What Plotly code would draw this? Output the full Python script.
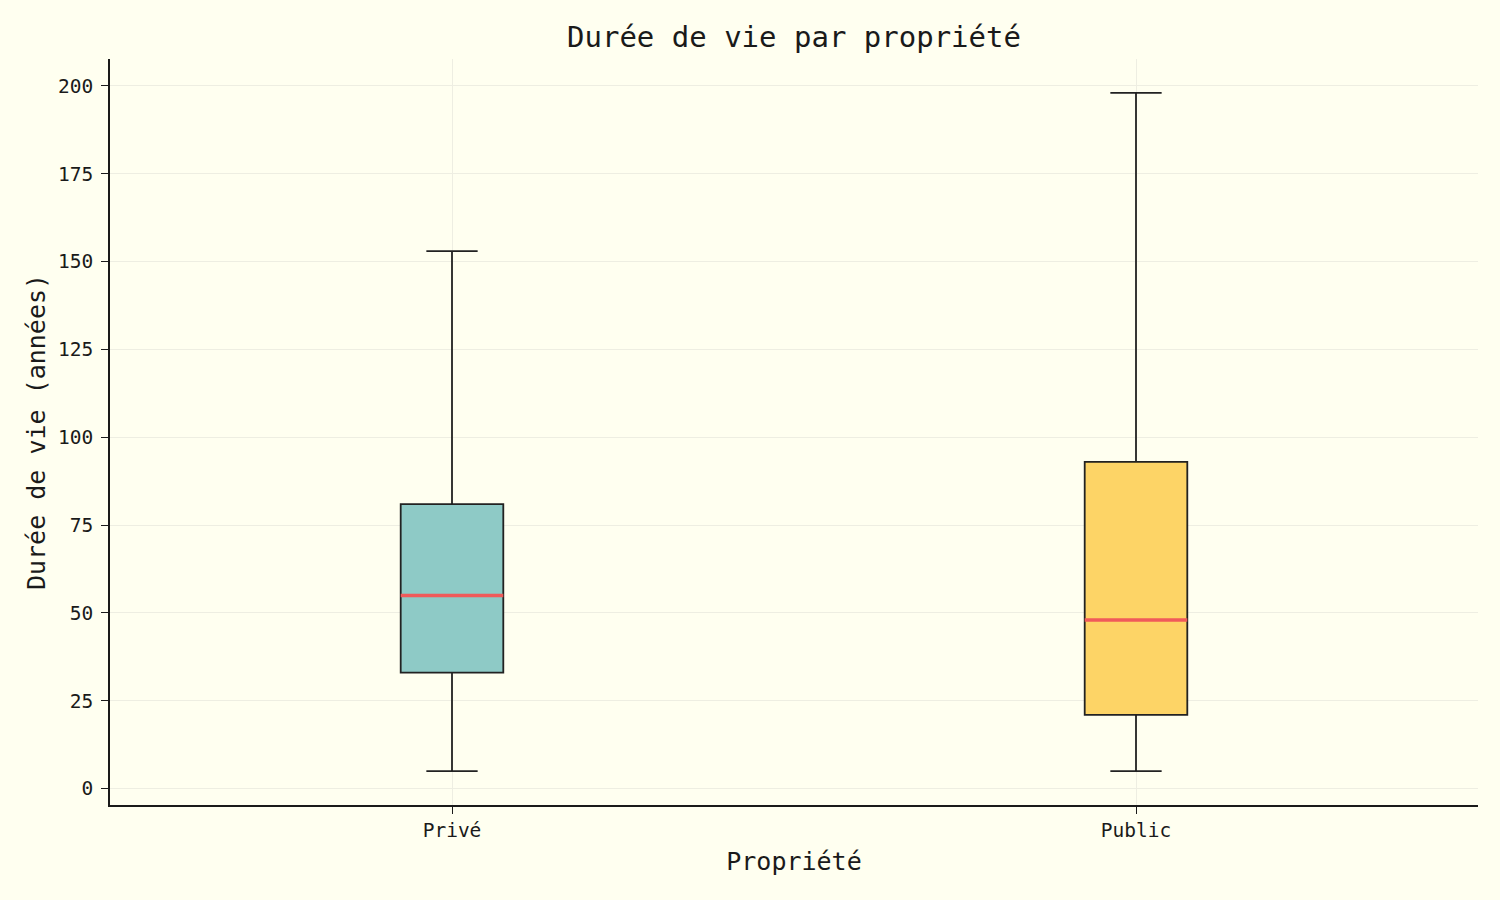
import plotly.graph_objects as go

# Box statistics per ownership category (years)
categories = ["Privé", "Public"]
lower_whisker = [5, 5]
q1 = [33, 21]
median = [55, 48]
q3 = [81, 93]
upper_whisker = [153, 198]
fill_colors = ["#8ECAC6", "#FDD466"]

positions = list(range(len(categories)))
box_width = 0.15

BG = "#FFFFF0"
FONT = "DejaVu Sans Mono"
INK = "#1a1a1a"

fig = go.Figure()

for i, cat in enumerate(categories):
    fig.add_trace(go.Box(
        x=[positions[i]],
        q1=[q1[i]],
        median=[median[i]],
        q3=[q3[i]],
        lowerfence=[lower_whisker[i]],
        upperfence=[upper_whisker[i]],
        name=cat,
        width=box_width,
        whiskerwidth=0.5,
        fillcolor=fill_colors[i],
        line=dict(color="#222222", width=1.8),
        boxpoints=False,
        hoverinfo="skip",
        showlegend=False,
    ))
    # red median line drawn over the box
    fig.add_trace(go.Scatter(
        x=[positions[i] - box_width / 2, positions[i] + box_width / 2],
        y=[median[i], median[i]],
        mode="lines",
        line=dict(color="#F05A5A", width=3.5),
        hoverinfo="skip",
        showlegend=False,
    ))

data_min = min(lower_whisker)
data_max = max(upper_whisker)
pad = (data_max - data_min) * 0.05

fig.update_layout(
    width=1500,
    height=900,
    paper_bgcolor=BG,
    plot_bgcolor=BG,
    font=dict(family=FONT, color=INK),
    margin=dict(l=110, r=22, t=59, b=95),
    title=dict(
        text="Durée de vie par propriété",
        x=0.5, xref="paper", xanchor="center",
        y=1 - 37 / 900, yref="container", yanchor="middle",
        font=dict(size=29, family=FONT, color=INK),
    ),
    xaxis=dict(
        range=[-0.5, len(categories) - 0.5],
        tickmode="array",
        tickvals=positions,
        ticktext=categories,
        tickfont=dict(size=19.5),
        ticks="outside", ticklen=7, tickwidth=1.2, tickcolor=INK,
        ticklabelstandoff=0,
        showline=True, linecolor=INK, linewidth=1.5,
        showgrid=True, gridcolor="#EEEEE2", gridwidth=1,
        zeroline=False,
        title=dict(text="Propriété", font=dict(size=25), standoff=11),
    ),
    yaxis=dict(
        range=[data_min - pad, data_max + pad],
        tickmode="array",
        tickvals=list(range(0, 201, 25)),
        tickfont=dict(size=19.5),
        ticks="outside", ticklen=7, tickwidth=1.2, tickcolor=INK,
        ticklabelstandoff=4,
        showline=True, linecolor=INK, linewidth=1.5,
        showgrid=True, gridcolor="#EEEEE2", gridwidth=1,
        zeroline=False,
        title=dict(text="Durée de vie (années)", font=dict(size=25), standoff=5),
    ),
)

fig.write_html("out.html")
